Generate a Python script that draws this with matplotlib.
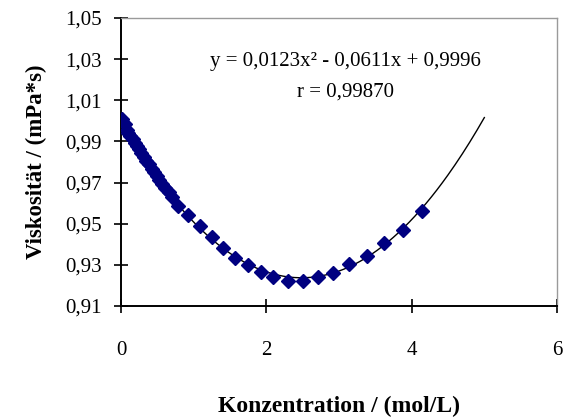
import numpy as np
import matplotlib
matplotlib.use("Agg")
import matplotlib.pyplot as plt

# Measured viscosity vs. concentration
konzentration = [0.02, 0.05, 0.08, 0.10, 0.13, 0.16, 0.19, 0.22, 0.25, 0.28,
                 0.31, 0.35, 0.38, 0.42, 0.45, 0.49, 0.53, 0.57, 0.61, 0.66,
                 0.70, 0.78, 0.92, 1.09, 1.25, 1.40, 1.57, 1.75, 1.93, 2.09,
                 2.30, 2.50, 2.71, 2.92, 3.14, 3.38, 3.62, 3.88, 4.14]
viskositaet = [1.0010, 0.9985, 0.9955, 0.9940, 0.9925, 0.9910, 0.9893, 0.9878,
               0.9862, 0.9843, 0.9826, 0.9805, 0.9790, 0.9768, 0.9752, 0.9733,
               0.9713, 0.9694, 0.9676, 0.9652, 0.9630, 0.9585, 0.9540, 0.9488,
               0.9437, 0.9380, 0.9335, 0.9300, 0.9266, 0.9241, 0.9222, 0.9222,
               0.9241, 0.9261, 0.9305, 0.9344, 0.9407, 0.9471, 0.9563]

# Quadratic fit coefficients (a x^2 + b x + c)
fit_a, fit_b, fit_c = 0.0123, -0.0611, 0.9996
fit_r = 0.99870

x_ticks = [0, 2, 4, 6]
x_tick_labels = ["0", "2", "4", "6"]
y_ticks = [0.91, 0.93, 0.95, 0.97, 0.99, 1.01, 1.03, 1.05]
y_tick_labels = ["0,91", "0,93", "0,95", "0,97", "0,99", "1,01", "1,03", "1,05"]

plt.rcParams["font.family"] = ["Liberation Serif", "DejaVu Serif"]

fig = plt.figure(figsize=(5.72, 4.19), dpi=100)
ax = fig.add_axes([0.2115, 0.2697, 0.7623, 0.6873])

xf = np.linspace(0, 5.0, 200)
ax.plot(xf, fit_a * xf**2 + fit_b * xf + fit_c, color="black", lw=1.0, zorder=2)
ax.plot(konzentration, viskositaet, linestyle="none", marker="D", ms=7.2,
        color="#000080", markeredgecolor="#000080", zorder=3)

ax.set_xlim(0, 6)
ax.set_ylim(0.91, 1.05)
ax.set_xticks(x_ticks)
ax.set_xticklabels(x_tick_labels)
ax.set_yticks(y_ticks)
ax.set_yticklabels(y_tick_labels)

ax.tick_params(axis="both", direction="inout", length=10, width=1.2,
               labelsize=15, color="black")
ax.tick_params(axis="y", pad=9)
ax.tick_params(axis="x", pad=20)

for side in ("left", "bottom"):
    ax.spines[side].set_color("black")
    ax.spines[side].set_linewidth(1.4)
for side in ("top", "right"):
    ax.spines[side].set_color("#9a9a9a")
    ax.spines[side].set_linewidth(1.0)

ax.set_xlabel("Konzentration / (mol/L)", fontsize=17, fontweight="bold", labelpad=26)
ax.set_ylabel("Viskosität / (mPa*s)", fontsize=16.5, fontweight="bold", labelpad=13)

eq = "y = {:.4f}x² - {:.4f}x + {:.4f}".format(fit_a, -fit_b, fit_c).replace(".", ",")
ax.text(0.515, 0.85, eq, transform=ax.transAxes, ha="center", va="center", fontsize=15)
ax.text(0.515, 0.742, "r = {:.5f}".format(fit_r).replace(".", ","),
        transform=ax.transAxes, ha="center", va="center", fontsize=15)

fig.savefig("out.png", dpi=100)
